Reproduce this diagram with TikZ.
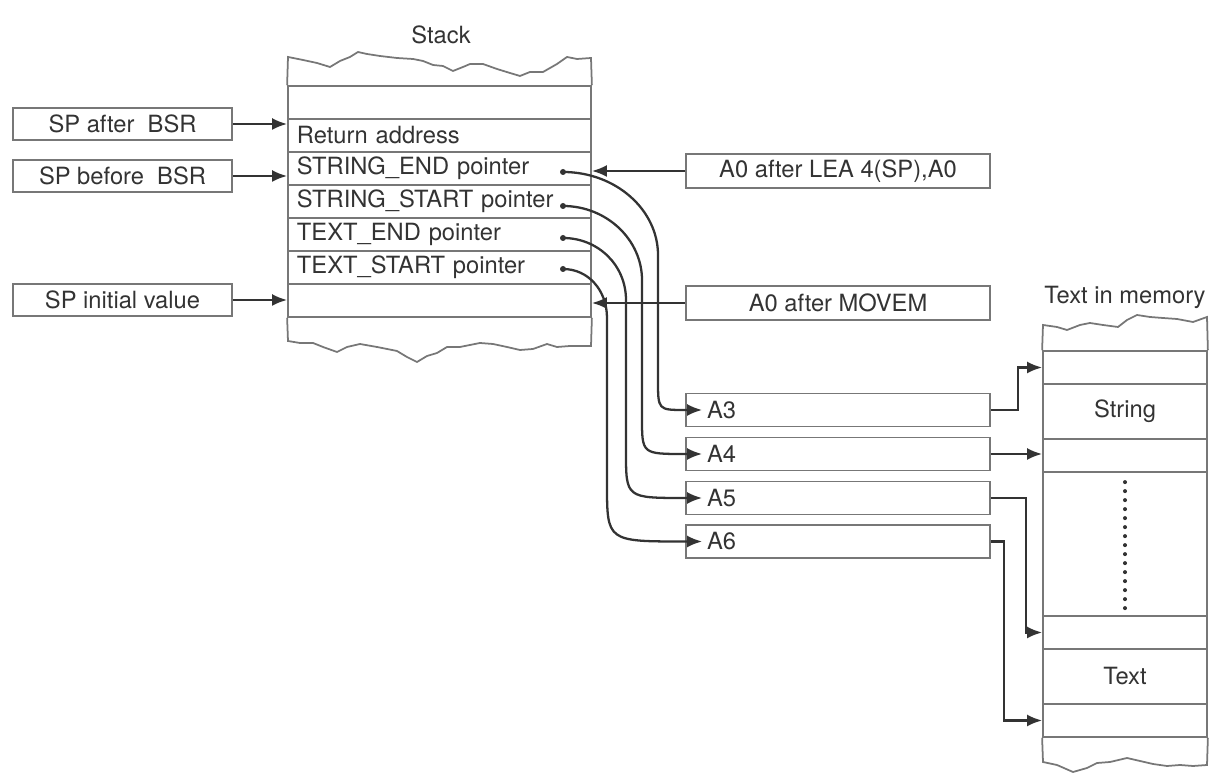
\documentclass[tikz,border=0pt]{standalone}
\usepackage{fontspec}
\setmainfont{TeX Gyre Heros}
\usetikzlibrary{arrows.meta}
\definecolor{ink}{HTML}{333333}
\definecolor{rule}{HTML}{777777}

\begin{document}
\begin{tikzpicture}[
  x=0.2mm, y=-0.2mm,
  font=\fontsize{13.5}{16}\selectfont,
  every node/.style={text=ink},
  box/.style={draw=rule, line width=1pt, align=center, inner sep=0pt, minimum height=6.4mm},
  lbox/.style={box, minimum width=43.8mm},
  rbox/.style={box, minimum width=60.8mm, minimum height=6.8mm},
  reg/.style={box, minimum width=60.8mm, minimum height=6.6mm, text width=52.4mm, align=left, inner xsep=4.2mm},
  cell/.style={draw=rule, line width=1pt, minimum width=60.6mm, minimum height=6.6mm, text width=57mm, align=left, inner xsep=1.8mm, inner ysep=0pt},
  mcell/.style={draw=rule, line width=1pt, minimum width=32.8mm, minimum height=6.6mm, inner sep=0pt},
  dot/.style={circle, fill=ink, inner sep=0pt, minimum size=1.2mm},
  rim/.style={draw=rule, line width=1pt},
  ptr/.style={draw=ink, line width=1.3pt, ->, >={Latex[length=3mm,width=2.4mm]}},
  dotline/.style={draw=ink, line width=2.3pt, line cap=round, dash pattern=on 0pt off 1.8mm},
]
\useasboundingbox (0,0) rectangle (1222,781);
% stack
\node at (441,35) (stacklbl) {Stack};
\node[cell] (s0)       at (439.5,102.5) {};
\node[cell] (ret)      at (439.5,135.5) {Return address};
\node[cell] (strend)   at (439.5,168.5) {STRING\_END pointer};
\node[cell] (strstart) at (439.5,201.5) {STRING\_START pointer};
\node[cell] (txtend)   at (439.5,234.5) {TEXT\_END pointer};
\node[cell] (txtstart) at (439.5,267.5) {TEXT\_START pointer};
\node[cell] (s6)       at (439.5,300.5) {};
\draw[rim] (s0.north west) -- (288,57) -- (303,60) -- (317,63) -- (330,67) -- (340,61) -- (350,57)
  -- (358,52) -- (367,54) -- (380,56) -- (397,58) -- (413,59) -- (423,61) -- (433,65) -- (443,66)
  -- (453,71) -- (463,67) -- (470,64) -- (483,64) -- (497,69) -- (510,73) -- (520,76) -- (530,72)
  -- (543,72) -- (557,64) -- (567,57) -- (577,59) -- (591,58) -- (s0.north east);
\draw[rim] (s6.south west) -- (288,341) -- (300,343) -- (313,343) -- (323,347) -- (337,352) -- (347,347)
  -- (360,344) -- (377,347) -- (397,351) -- (407,357) -- (417,362) -- (427,356) -- (437,353) -- (447,347)
  -- (460,347) -- (480,343) -- (493,344) -- (507,347) -- (520,350) -- (533,349) -- (547,344) -- (557,347)
  -- (570,346) -- (591,346) -- (s6.south east);
% stack pointers
\node[lbox] (spafter)  at (122.5,124) {SP after~ BSR};
\node[lbox] (spbefore) at (122.5,176) {SP before~ BSR};
\node[lbox] (spinit)   at (122.5,300) {SP initial value};
\draw[ptr] (spafter) -- (spafter -| ret.west);
\draw[ptr] (spbefore) -- (spbefore -| strend.west);
\draw[ptr] (spinit) -- (spinit -| s6.west);
\node[rbox] (lea)   at (838,171) {A0 after LEA 4(SP),A0};
\node[rbox] (movem) at (838,303) {A0 after MOVEM};
\draw[ptr] (lea) -- (lea -| strend.east);
\draw[ptr] (movem) -- (movem -| s6.east);
% address registers
\node[reg] (a3) at (838,410) {A3};
\node[reg] (a4) at (838,454) {A4};
\node[reg] (a5) at (838,498) {A5};
\node[reg] (a6) at (838,541.5) {A6};
\node[dot] (p3) at (563,172) {};
\node[dot] (p4) at (563,206) {};
\node[dot] (p5) at (563,238) {};
\node[dot] (p6) at (563,269) {};
\draw[ptr] (p3.center) .. controls (616,172) and (658,210) .. (658,255) -- (658,380)
  .. controls (658,410) .. (a3.west) -- ([xshift=3.4mm]a3.west);
\draw[ptr] (p4.center) .. controls (607,206) and (642,240) .. (642,280) -- (642,418)
  .. controls (642,454) .. (a4.west) -- ([xshift=3.4mm]a4.west);
\draw[ptr] (p5.center) .. controls (598,238) and (626,265) .. (626,300) -- (626,452)
  .. controls (626,498) .. (a5.west) -- ([xshift=3.4mm]a5.west);
\draw[ptr] (p6.center) .. controls (588,269) and (607,290) .. (607,318) -- (607,484)
  .. controls (607,541.5) .. (a6.west) -- ([xshift=3.4mm]a6.west);
% text in memory
\node (memlbl) at (1125,297) {Text in memory};
\node[mcell] (m0) at (1125,367.5) {};
\node[mcell, minimum height=11mm] (mstr) at (1125,411.5) {String};
\node[mcell] (m2) at (1125,455.5) {};
\node[mcell, minimum height=28.8mm] (mdots) at (1125,544) {};
\node[mcell] (m4) at (1125,632.5) {};
\node[mcell, minimum height=11mm] (mtxt) at (1125,676.5) {Text};
\node[mcell] (m6) at (1125,720.5) {};
\draw[dotline] ([yshift=-2.2mm]mdots.north) -- ([yshift=1.2mm]mdots.south);
\draw[rim] (m0.north west) -- (1043,325) -- (1057,327) -- (1067,330) -- (1080,325) -- (1090,323)
  -- (1103,325) -- (1118,327) -- (1127,320) -- (1137,315) -- (1150,317) -- (1163,318) -- (1177,319)
  -- (1193,322) -- (1207,317) -- (m0.north east);
\draw[rim] (m6.south west) -- (1043,762) -- (1057,765) -- (1073,772) -- (1087,768) -- (1097,763)
  -- (1110,762) -- (1127,758) -- (1140,761) -- (1153,764) -- (1167,766) -- (1180,765) -- (1193,766)
  -- (1207,765) -- (m6.south east);
\draw[ptr] (a3.east) -- ++(27,0) |- (m0.west);
\draw[ptr] (a4.east) -- (a4.east -| m2.west);
\draw[ptr] (a5.east) -- ++(35,0) |- (m4.west);
\draw[ptr] (a6.east) -- ++(13,0) |- (m6.west);
\end{tikzpicture}
\end{document}
